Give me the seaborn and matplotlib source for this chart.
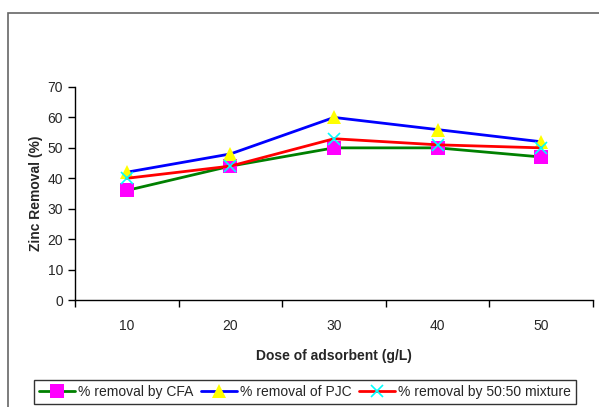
import pandas as pd
import numpy as np
import matplotlib
matplotlib.use('Agg')
import matplotlib.pyplot as plt
import seaborn as sns
from matplotlib.patches import Rectangle

# data
dose = [10, 20, 30, 40, 50]
cfa = [36, 44, 50, 50, 47]
pjc = [42, 48, 60, 56, 52]
mix = [40, 44, 53, 51, 50]

series_names = ['% removal by CFA', '% removal of PJC', '% removal by 50:50 mixture']
series_vals = [cfa, pjc, mix]
line_colors = ['#008000', '#0000FF', '#FF0000']
marker_colors = ['#FF00FF', '#FFFF00', '#00FFFF']
markers = ['s', '^', 'x']
marker_sizes = [9.5, 10, 9]

sns.set_style('white')
plt.rcParams['font.family'] = ['Liberation Sans', 'DejaVu Sans']

fig = plt.figure(figsize=(5.99, 4.07), dpi=100)
ax = fig.add_axes([75/599, 1 - 300/407, (593 - 75)/599, 213/407])

# outer chart frame
fig.patches.append(Rectangle((8/599, -0.2), 1.2, 1 - 13/407 + 0.2,
                             transform=fig.transFigure, fill=False,
                             edgecolor='#666666', linewidth=1.2))

for name, vals, lc, mc, mk, ms in zip(series_names, series_vals, line_colors,
                                      marker_colors, markers, marker_sizes):
    df = pd.DataFrame({'dose': dose, 'val': vals})
    sns.lineplot(data=df, x='dose', y='val', ax=ax, color=lc, linewidth=2,
                 marker=mk, markersize=ms, markerfacecolor=mc,
                 markeredgecolor=mc, markeredgewidth=1.2 if mk == 'x' else 0,
                 label=name, legend=False)

ax.set_xlim(5, 55)
ax.set_ylim(0, 70)
ax.set_xticks(dose)
ax.set_xticks([5, 15, 25, 35, 45, 55], minor=True)
ax.set_yticks(range(0, 71, 10))
ax.tick_params(axis='x', which='major', length=0, pad=14, labelsize=10)
ax.tick_params(axis='x', which='minor', length=5, width=1, color='black', direction='out', bottom=True)
ax.tick_params(axis='y', length=5, width=1, color='black', direction='out', left=True, labelsize=10)

ax.set_xlabel('Dose of adsorbent (g/L)', fontsize=10, fontweight='bold', labelpad=11)
ax.set_ylabel('Zinc Removal (%)', fontsize=10, fontweight='bold', labelpad=3)

for s in ['top', 'right']:
    ax.spines[s].set_visible(False)
for s in ['left', 'bottom']:
    ax.spines[s].set_color('black')
    ax.spines[s].set_linewidth(1)
ax.set_facecolor('white')

handles, labels = ax.get_legend_handles_labels()
leg = fig.legend(handles, labels, loc='upper left', ncol=3,
                 bbox_to_anchor=(34/599, 1 - 380/407), fontsize=10,
                 frameon=True, fancybox=False, edgecolor='black',
                 borderaxespad=0, handlelength=2.6, handletextpad=0.2,
                 columnspacing=0.55, borderpad=0.35)
leg.get_frame().set_linewidth(1)

fig.savefig('out.png', dpi=100)
